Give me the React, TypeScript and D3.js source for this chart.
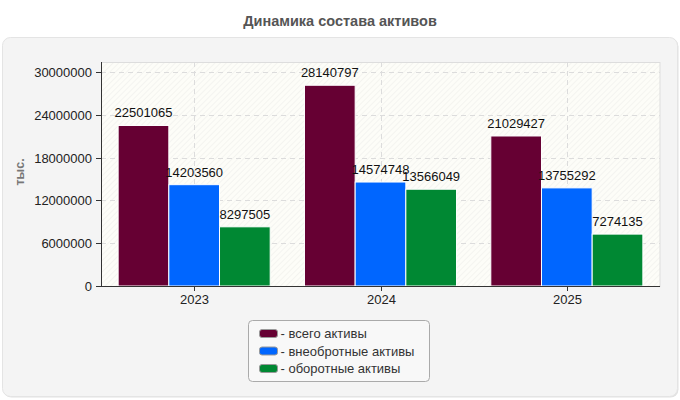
import React from "react";
import * as d3 from "d3";

// Years on the category axis
const years: string[] = ["2023", "2024", "2025"];
// Series names shown in the legend
const seriesNames: string[] = ["всего активы", "внеобротные активы", "оборотные активы"];
// Values per series, one entry per year (thousands)
const totalAssets: number[] = [22501065, 28140797, 21029427];
const nonCurrentAssets: number[] = [14203560, 14574748, 13755292];
const currentAssets: number[] = [8297505, 13566049, 7274135];
// Y-axis tick values
const yTicks: number[] = [0, 6000000, 12000000, 18000000, 24000000, 30000000];

const seriesColors = ["#660033", "#0066ff", "#008833"];

const W = 680;
const H = 400;
const plot = { left: 101, right: 660, top: 62, bottom: 286 };
const font = "'Liberation Sans', Arial, sans-serif";

export default function App() {
  const seriesValues = [totalAssets, nonCurrentAssets, currentAssets];

  const x0 = d3.scaleBand<string>().domain(years).range([plot.left, plot.right]).padding(0);
  const bw = x0.bandwidth();
  const groupPad = bw * 0.092;
  const x1 = d3
    .scaleBand<string>()
    .domain(seriesNames)
    .range([groupPad, bw - groupPad])
    .padding(0);
  const y = d3.scaleLinear().domain([0, 31400000]).range([plot.bottom, plot.top]);

  return (
    <svg
      width={W}
      height={H}
      style={{ position: "absolute", left: 0, top: 0, display: "block" }}
      fontFamily={font}
    >
      <defs>
        <pattern id="hatch" width="4" height="4" patternUnits="userSpaceOnUse" patternTransform="rotate(45)">
          <rect width="4" height="4" fill="#fdfdf8" />
          <line x1="0" y1="0" x2="0" y2="4" stroke="#efefec" strokeWidth="1.2" />
        </pattern>
      </defs>
      <rect width={W} height={H} fill="#ffffff" />

      {/* title */}
      <text x={340} y={26} textAnchor="middle" fontSize={14.5} fontWeight="bold" fill="#555555">
        Динамика состава активов
      </text>

      {/* outer panel */}
      <rect x={3.5} y={38.5} width={675} height={359} rx={8} fill="#e2e2e2" />
      <rect x={2.5} y={37.5} width={675} height={359} rx={8} fill="#f4f4f4" stroke="#e4e4e4" />

      {/* plot background */}
      <rect
        x={plot.left}
        y={plot.top}
        width={plot.right - plot.left}
        height={plot.bottom - plot.top}
        fill="url(#hatch)"
      />
      <rect
        x={plot.left + 0.5}
        y={plot.top + 0.5}
        width={plot.right - plot.left - 0.5}
        height={plot.bottom - plot.top}
        fill="none"
        stroke="#dddddd"
      />

      {/* grid */}
      {yTicks.slice(1).map((t) => (
        <line
          key={"gy" + t}
          x1={plot.left}
          x2={plot.right}
          y1={Math.round(y(t)) + 0.5}
          y2={Math.round(y(t)) + 0.5}
          stroke="#dcdcdc"
          strokeDasharray="5,4"
        />
      ))}
      {years.map((yr) => {
        const cx = Math.round(x0(yr)! + bw / 2) + 0.5;
        return (
          <line
            key={"gx" + yr}
            x1={cx}
            x2={cx}
            y1={plot.top}
            y2={plot.bottom}
            stroke="#dcdcdc"
            strokeDasharray="5,4"
          />
        );
      })}

      {/* bars */}
      {years.map((yr, i) => (
        <g key={yr} transform={`translate(${x0(yr)},0)`}>
          {seriesNames.map((s, j) => {
            const v = seriesValues[j][i];
            const bx = x1(s)!;
            const by = y(v);
            return (
              <g key={s}>
                <rect
                  x={bx}
                  y={by}
                  width={x1.bandwidth()}
                  height={plot.bottom - by}
                  fill={seriesColors[j]}
                  stroke="#ffffff"
                  strokeWidth={1}
                />
                <text
                  x={bx + x1.bandwidth() / 2}
                  y={by - 8}
                  textAnchor="middle"
                  fontSize={13}
                  fill="#111111"
                >
                  {v}
                </text>
              </g>
            );
          })}
        </g>
      ))}

      {/* y axis */}
      <line x1={plot.left + 0.5} x2={plot.left + 0.5} y1={plot.top} y2={plot.bottom} stroke="#333333" />
      {yTicks.map((t) => {
        const ty = Math.round(y(t)) + 0.5;
        return (
          <g key={"ty" + t}>
            <line x1={plot.left - 5} x2={plot.left} y1={ty} y2={ty} stroke="#333333" />
            <text x={plot.left - 9} y={ty + 4.5} textAnchor="end" fontSize={13} fill="#222222">
              {t}
            </text>
          </g>
        );
      })}
      <text
        transform={`translate(24,172) rotate(-90)`}
        textAnchor="middle"
        fontSize={12.5}
        fontWeight="bold"
        fill="#777777"
      >
        тыс.
      </text>

      {/* x axis */}
      <line x1={plot.left} x2={plot.right} y1={plot.bottom + 0.5} y2={plot.bottom + 0.5} stroke="#333333" />
      {years.map((yr) => {
        const cx = Math.round(x0(yr)! + bw / 2) + 0.5;
        return (
          <g key={"tx" + yr}>
            <line x1={cx} x2={cx} y1={plot.bottom} y2={plot.bottom + 5} stroke="#333333" />
            <text x={cx} y={304} textAnchor="middle" fontSize={13} fill="#222222">
              {yr}
            </text>
          </g>
        );
      })}

      {/* legend */}
      <rect x={248.5} y={320.5} width={181} height={61} rx={4} fill="#f8f8f8" stroke="#aaaaaa" />
      {seriesNames.map((s, j) => (
        <g key={"lg" + s} transform={`translate(259,${329 + j * 17.5})`}>
          <rect x={0.5} y={0.5} width={18} height={8} rx={2.5} fill={seriesColors[j]} stroke="#999999" />
          <text x={21.5} y={9} fontSize={13} fill="#333333">
            {"- " + s}
          </text>
        </g>
      ))}
    </svg>
  );
}
